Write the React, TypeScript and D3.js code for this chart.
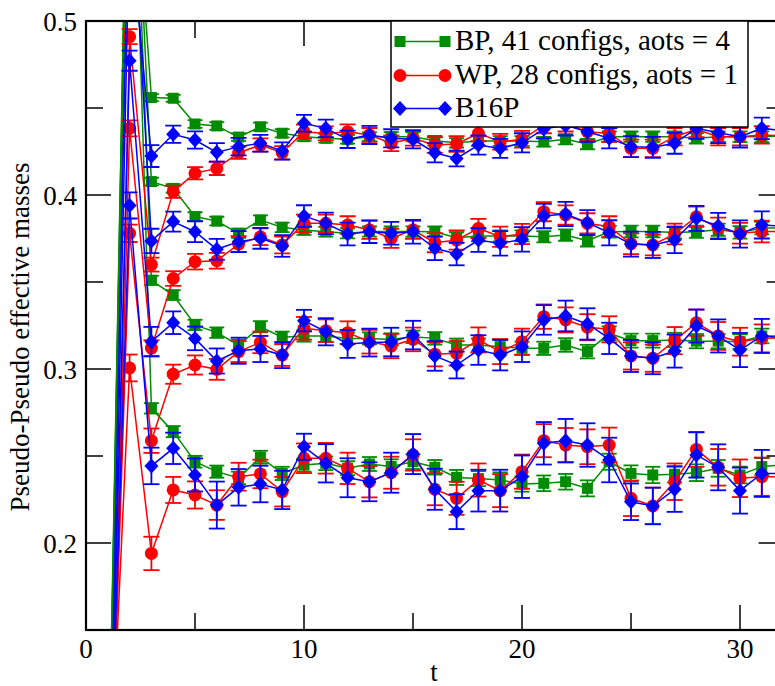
import React from "react";
import * as d3 from "d3";

// time slices
const T = [1, 2, 3, 4, 5, 6, 7, 8, 9, 10, 11, 12, 13, 14, 15, 16, 17, 18, 19, 20, 21, 22, 23, 24, 25, 26, 27, 28, 29, 30, 31, 32];

// BP, 41 configs, aots = 4 (green squares), four masses
const bp1 = [0.02, 0.63, 0.456, 0.4556, 0.4408, 0.4397, 0.4333, 0.4392, 0.4355, 0.4335, 0.4326, 0.432, 0.4335, 0.4335, 0.4335, 0.4312, 0.430, 0.431, 0.431, 0.431, 0.4306, 0.432, 0.4293, 0.4335, 0.4335, 0.4335, 0.4335, 0.4326, 0.4335, 0.4335, 0.4335, 0.434];
const bp2 = [0.03, 0.67, 0.4077, 0.4038, 0.3876, 0.385, 0.378, 0.3856, 0.3814, 0.3799, 0.3789, 0.378, 0.379, 0.379, 0.379, 0.3789, 0.3755, 0.3765, 0.3765, 0.3765, 0.376, 0.377, 0.3737, 0.3789, 0.379, 0.379, 0.3785, 0.3789, 0.38, 0.3785, 0.381, 0.381];
const bp3 = [0.03, 0.68, 0.351, 0.3425, 0.3253, 0.3209, 0.3138, 0.3243, 0.3182, 0.319, 0.319, 0.3176, 0.3176, 0.317, 0.3185, 0.3176, 0.3138, 0.3138, 0.3128, 0.3119, 0.3119, 0.3138, 0.31, 0.3205, 0.3163, 0.3163, 0.3167, 0.316, 0.316, 0.3157, 0.319, 0.319];
const bp4 = [0.04, 0.68, 0.2774, 0.264, 0.2467, 0.241, 0.2374, 0.2493, 0.24, 0.2448, 0.2458, 0.243, 0.2454, 0.244, 0.2467, 0.2435, 0.2377, 0.237, 0.2362, 0.2339, 0.2343, 0.2352, 0.2314, 0.2467, 0.24, 0.2391, 0.2395, 0.2404, 0.2429, 0.2391, 0.2439, 0.245];
const bpErr1 = [0.01, 0.01, 0.002, 0.002, 0.0022, 0.0022, 0.0022, 0.0024, 0.0024, 0.0024, 0.0025, 0.0025, 0.0025, 0.0026, 0.0026, 0.0027, 0.0027, 0.0028, 0.0028, 0.0028, 0.0028, 0.0029, 0.003, 0.003, 0.003, 0.003, 0.003, 0.003, 0.003, 0.0031, 0.0031, 0.0031];
const bpErr2 = [0.01, 0.01, 0.0022, 0.0024, 0.0025, 0.0025, 0.0026, 0.0027, 0.0027, 0.0028, 0.0028, 0.0029, 0.0029, 0.003, 0.003, 0.003, 0.0031, 0.0031, 0.0032, 0.0032, 0.0032, 0.0033, 0.0033, 0.0034, 0.0034, 0.0034, 0.0035, 0.0035, 0.0035, 0.0036, 0.0036, 0.0036];
const bpErr3 = [0.01, 0.01, 0.0026, 0.0028, 0.003, 0.003, 0.0031, 0.0032, 0.0033, 0.0033, 0.0034, 0.0034, 0.0035, 0.0035, 0.0036, 0.0036, 0.0037, 0.0037, 0.0038, 0.0038, 0.0038, 0.0039, 0.0039, 0.004, 0.004, 0.004, 0.0041, 0.0041, 0.0041, 0.0042, 0.0042, 0.0042];
const bpErr4 = [0.01, 0.01, 0.003, 0.0032, 0.0034, 0.0035, 0.0036, 0.0037, 0.0038, 0.0038, 0.0039, 0.004, 0.004, 0.0041, 0.0042, 0.0042, 0.0043, 0.0043, 0.0044, 0.0044, 0.0045, 0.0045, 0.0046, 0.0046, 0.0046, 0.0047, 0.0047, 0.0048, 0.0048, 0.0048, 0.0049, 0.0049];

// WP, 28 configs, aots = 1 (red circles)
const wp1 = [-0.05, 0.491, 0.36, 0.4019, 0.4125, 0.4153, 0.4243, 0.4287, 0.4243, 0.4364, 0.4354, 0.4364, 0.4345, 0.4297, 0.4326, 0.4287, 0.4293, 0.4354, 0.4306, 0.432, 0.44, 0.441, 0.4364, 0.4354, 0.4268, 0.4268, 0.4335, 0.4378, 0.4335, 0.4335, 0.4345, 0.434];
const wp2 = [-0.02, 0.4383, 0.312, 0.352, 0.3617, 0.3622, 0.3718, 0.376, 0.3713, 0.3837, 0.3837, 0.3828, 0.38, 0.3751, 0.38, 0.3726, 0.3741, 0.3808, 0.376, 0.3776, 0.3904, 0.3885, 0.3837, 0.3818, 0.372, 0.3713, 0.3776, 0.3875, 0.381, 0.378, 0.379, 0.379];
const wp3 = [0.0, 0.378, 0.2588, 0.297, 0.3023, 0.2998, 0.31, 0.3153, 0.308, 0.3234, 0.322, 0.3209, 0.3157, 0.3132, 0.317, 0.3085, 0.309, 0.3167, 0.31, 0.3157, 0.3301, 0.3282, 0.324, 0.3228, 0.3075, 0.3062, 0.3163, 0.3266, 0.319, 0.3157, 0.3176, 0.318];
const wp4 = [0.03, 0.3006, 0.194, 0.2305, 0.2276, 0.2218, 0.2381, 0.2397, 0.2295, 0.2487, 0.2487, 0.2429, 0.2352, 0.2404, 0.2506, 0.2309, 0.2257, 0.2362, 0.2301, 0.241, 0.2588, 0.2563, 0.2553, 0.2563, 0.2257, 0.2213, 0.2352, 0.2538, 0.2435, 0.2372, 0.2381, 0.238];
const wpErr1 = [0.01, 0.0043, 0.004, 0.0035, 0.0035, 0.0038, 0.0035, 0.0038, 0.0038, 0.004, 0.004, 0.0042, 0.004, 0.0045, 0.0042, 0.0045, 0.0045, 0.0045, 0.0045, 0.0048, 0.0045, 0.0045, 0.0048, 0.0048, 0.005, 0.005, 0.005, 0.0045, 0.005, 0.005, 0.005, 0.005];
const wpErr2 = [0.01, 0.0046, 0.0045, 0.0042, 0.0045, 0.0045, 0.0045, 0.0048, 0.0048, 0.005, 0.005, 0.005, 0.0052, 0.0055, 0.0052, 0.0055, 0.0055, 0.0055, 0.0058, 0.0058, 0.0055, 0.0055, 0.0058, 0.006, 0.006, 0.006, 0.006, 0.0058, 0.006, 0.006, 0.0062, 0.0062];
const wpErr3 = [0.01, 0.005, 0.007, 0.0055, 0.0055, 0.006, 0.006, 0.0062, 0.0062, 0.0065, 0.0065, 0.0065, 0.0068, 0.007, 0.0068, 0.007, 0.007, 0.0072, 0.0072, 0.0075, 0.007, 0.0072, 0.0075, 0.0075, 0.0078, 0.0078, 0.0078, 0.0075, 0.008, 0.008, 0.008, 0.008];
const wpErr4 = [0.01, 0.0077, 0.0096, 0.0075, 0.0078, 0.0085, 0.008, 0.0082, 0.0085, 0.0085, 0.0088, 0.009, 0.009, 0.0092, 0.009, 0.0092, 0.0095, 0.0095, 0.0095, 0.0098, 0.0095, 0.0098, 0.01, 0.01, 0.0102, 0.0105, 0.0105, 0.01, 0.0105, 0.0108, 0.011, 0.011];

// B16P (blue diamonds)
const b16p1 = [-0.02, 0.56, 0.4224, 0.4349, 0.4316, 0.4245, 0.4278, 0.4297, 0.4253, 0.4412, 0.4383, 0.432, 0.4345, 0.4326, 0.432, 0.4243, 0.421, 0.4287, 0.4268, 0.43, 0.438, 0.44, 0.4364, 0.4326, 0.4278, 0.4274, 0.4297, 0.4383, 0.4358, 0.4335, 0.4383, 0.437];
const b16p2 = [0.0, 0.6, 0.3736, 0.3847, 0.3789, 0.3688, 0.3732, 0.3751, 0.3707, 0.3879, 0.3837, 0.3776, 0.3789, 0.378, 0.3789, 0.3694, 0.3661, 0.3741, 0.3722, 0.3745, 0.3879, 0.3891, 0.3841, 0.3783, 0.3718, 0.3713, 0.3741, 0.3866, 0.3822, 0.3776, 0.3828, 0.382];
const b16p3 = [0.01, 0.4772, 0.3157, 0.3266, 0.3176, 0.3046, 0.3105, 0.3115, 0.308, 0.3278, 0.3214, 0.3144, 0.3152, 0.3155, 0.3195, 0.3075, 0.3023, 0.3109, 0.308, 0.3128, 0.3282, 0.3305, 0.3259, 0.3176, 0.3075, 0.3062, 0.3103, 0.3247, 0.319, 0.3109, 0.319, 0.318];
const b16p4 = [0.02, 0.394, 0.2443, 0.2544, 0.2391, 0.2218, 0.232, 0.2339, 0.2305, 0.2553, 0.2458, 0.2375, 0.2352, 0.2404, 0.2511, 0.2309, 0.218, 0.2301, 0.2301, 0.2381, 0.2573, 0.2588, 0.2563, 0.2477, 0.2237, 0.2213, 0.2309, 0.2506, 0.2435, 0.2301, 0.24, 0.24];
const b16pErr1 = [0.01, 0.006, 0.0063, 0.005, 0.005, 0.0053, 0.005, 0.0048, 0.005, 0.0048, 0.005, 0.005, 0.0052, 0.0052, 0.0052, 0.0055, 0.0045, 0.0055, 0.0055, 0.0055, 0.0055, 0.0058, 0.0058, 0.0058, 0.006, 0.006, 0.006, 0.006, 0.006, 0.0062, 0.0062, 0.0062];
const b16pErr2 = [0.01, 0.006, 0.007, 0.0058, 0.006, 0.006, 0.006, 0.006, 0.0062, 0.0062, 0.0062, 0.0065, 0.0065, 0.0065, 0.0068, 0.0068, 0.0065, 0.0068, 0.007, 0.007, 0.007, 0.007, 0.0072, 0.0072, 0.0072, 0.0075, 0.0075, 0.0072, 0.0075, 0.0078, 0.0078, 0.0078];
const b16pErr3 = [0.01, 0.0058, 0.0085, 0.0065, 0.0068, 0.0072, 0.0075, 0.0075, 0.0075, 0.0062, 0.0078, 0.008, 0.008, 0.0082, 0.0082, 0.0085, 0.0077, 0.0085, 0.0088, 0.0088, 0.0085, 0.0088, 0.009, 0.009, 0.0092, 0.0092, 0.0095, 0.0095, 0.0095, 0.0098, 0.0098, 0.0098];
const b16pErr4 = [0.01, 0.0075, 0.0105, 0.009, 0.0095, 0.0135, 0.0105, 0.0105, 0.011, 0.0075, 0.011, 0.0112, 0.0112, 0.0115, 0.0115, 0.0118, 0.01, 0.012, 0.012, 0.0122, 0.0122, 0.0125, 0.0125, 0.0128, 0.0105, 0.0105, 0.013, 0.013, 0.0132, 0.0132, 0.0135, 0.0135];

const legendLabels = ["BP, 41 configs, aots = 4", "WP, 28 configs, aots = 1", "B16P"];
const xMajorTicks = [0, 10, 20, 30];
const xMinorTicks = [5, 15, 25];
const yMajorTicks = [0.2, 0.3, 0.4, 0.5];
const yMinorTicks = [0.25, 0.35, 0.45];

const W = 775;
const H = 686;
const X0 = 86;
const X1 = 783.6;
const Y0 = 21;
const Y1 = 630;

const GREEN = "#008b00";
const RED = "#ff0000";
const BLUE = "#0000ff";
const FONT = "Liberation Serif, DejaVu Serif, serif";

type Shape = "square" | "circle" | "diamond";

const groups: { color: string; shape: Shape; cap: number; sets: number[][]; errs: number[][] }[] = [
  { color: GREEN, shape: "square", cap: 15, sets: [bp1, bp2, bp3, bp4], errs: [bpErr1, bpErr2, bpErr3, bpErr4] },
  { color: RED, shape: "circle", cap: 16, sets: [wp1, wp2, wp3, wp4], errs: [wpErr1, wpErr2, wpErr3, wpErr4] },
  { color: BLUE, shape: "diamond", cap: 16, sets: [b16p1, b16p2, b16p3, b16p4], errs: [b16pErr1, b16pErr2, b16pErr3, b16pErr4] },
];

function Marker({ shape, x, y, color }: { shape: Shape; x: number; y: number; color: string }) {
  if (shape === "square") return <rect x={x - 5.5} y={y - 5.5} width={11} height={11} fill={color} />;
  if (shape === "circle") return <circle cx={x} cy={y} r={6.5} fill={color} />;
  return <path d={`M${x},${y - 7.5}L${x + 7},${y}L${x},${y + 7.5}L${x - 7},${y}Z`} fill={color} />;
}

const txt = { fontFamily: FONT };

export default function App() {
  const x = d3.scaleLinear().domain([0, 32]).range([X0, X1]);
  const y = d3.scaleLinear().domain([0.15, 0.5]).range([Y1, Y0]);
  const line = d3
    .line<number>()
    .x((_, i) => x(T[i]))
    .y((d) => y(d));

  const legendRowsY = [41.5, 75.5, 108.5];

  return (
    <svg width={W} height={H} style={{ position: "absolute", left: 0, top: 0, background: "#fff" }}>
      <defs>
        <clipPath id="plot">
          <rect x={X0} y={Y0} width={X1 - X0} height={Y1 - Y0} />
        </clipPath>
      </defs>
      <rect x={0} y={0} width={W} height={H} fill="#fff" />
      <g clipPath="url(#plot)">
        {groups.map((g, gi) =>
          g.sets.map((vals, si) => (
            <g key={`${gi}-${si}`}>
              <path d={line(vals) || ""} fill="none" stroke={g.color} strokeWidth={1.5} />
              {vals.map((v, i) => {
                const cx = x(T[i]);
                const e = g.errs[si][i];
                const yt = y(v + e);
                const yb = y(v - e);
                return (
                  <g key={i} stroke={g.color} strokeWidth={1.8}>
                    <line x1={cx} x2={cx} y1={yt} y2={yb} />
                    <line x1={cx - g.cap / 2} x2={cx + g.cap / 2} y1={yt} y2={yt} />
                    <line x1={cx - g.cap / 2} x2={cx + g.cap / 2} y1={yb} y2={yb} />
                  </g>
                );
              })}
              {vals.map((v, i) => (
                <Marker key={`m${i}`} shape={g.shape} x={x(T[i])} y={y(v)} color={g.color} />
              ))}
            </g>
          ))
        )}
      </g>

      {/* ticks */}
      <g stroke="#000" strokeWidth={1.5}>
        {xMajorTicks.map((t) => (
          <g key={`xM${t}`}>
            <line x1={x(t)} x2={x(t)} y1={Y1} y2={Y1 - 25} />
            <line x1={x(t)} x2={x(t)} y1={Y0} y2={Y0 + 25} />
          </g>
        ))}
        {xMinorTicks.map((t) => (
          <g key={`xm${t}`}>
            <line x1={x(t)} x2={x(t)} y1={Y1} y2={Y1 - 17} />
            <line x1={x(t)} x2={x(t)} y1={Y0} y2={Y0 + 17} />
          </g>
        ))}
        {yMajorTicks.map((t) => (
          <g key={`yM${t}`}>
            <line x1={X0} x2={X0 + 25} y1={y(t)} y2={y(t)} />
            <line x1={X1} x2={X1 - 25} y1={y(t)} y2={y(t)} />
          </g>
        ))}
        {yMinorTicks.map((t) => (
          <g key={`ym${t}`}>
            <line x1={X0} x2={X0 + 17} y1={y(t)} y2={y(t)} />
            <line x1={X1} x2={X1 - 17} y1={y(t)} y2={y(t)} />
          </g>
        ))}
      </g>

      {/* frame */}
      <rect x={X0} y={Y0} width={X1 - X0} height={Y1 - Y0} fill="none" stroke="#000" strokeWidth={2.2} />

      {/* tick labels */}
      {xMajorTicks.map((t) => (
        <text key={`xl${t}`} x={x(t)} y={658} textAnchor="middle" fontSize={27} style={txt}>
          {t}
        </text>
      ))}
      {yMajorTicks.map((t) => (
        <text key={`yl${t}`} x={77} y={y(t) + 9.5} textAnchor="end" fontSize={27} style={txt}>
          {t.toFixed(1)}
        </text>
      ))}

      {/* axis labels */}
      <text x={434} y={681} textAnchor="middle" fontSize={27} style={txt}>
        t
      </text>
      <text transform={`translate(29,337) rotate(-90)`} textAnchor="middle" fontSize={27} style={txt}>
        Pseudo-Pseudo effective masses
      </text>

      {/* legend */}
      <rect x={391} y={Y0} width={357} height={106} fill="#fff" stroke="#000" strokeWidth={1.5} />
      {groups.map((g, i) => (
        <g key={`lg${i}`}>
          <line x1={400} x2={445} y1={legendRowsY[i]} y2={legendRowsY[i]} stroke={g.color} strokeWidth={1.5} />
          <Marker shape={g.shape} x={400} y={legendRowsY[i]} color={g.color} />
          <Marker shape={g.shape} x={445} y={legendRowsY[i]} color={g.color} />
          <text x={455} y={legendRowsY[i] + 8.5} fontSize={29} style={txt}>
            {legendLabels[i]}
          </text>
        </g>
      ))}
    </svg>
  );
}
